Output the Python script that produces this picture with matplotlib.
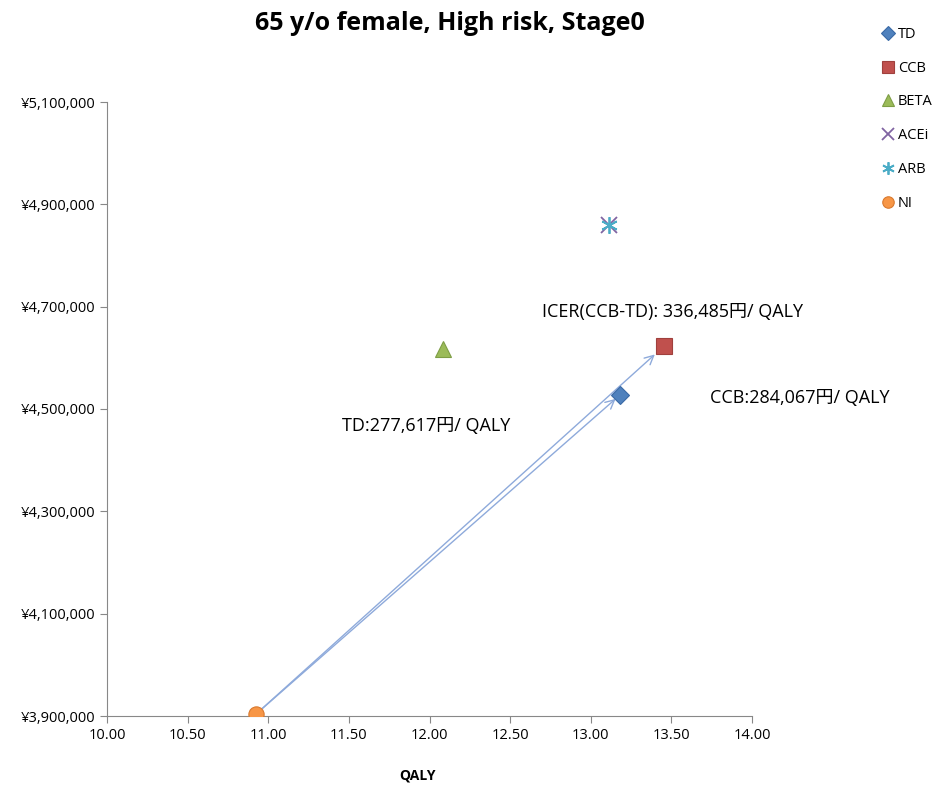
import matplotlib.pyplot as plt
from matplotlib.ticker import FuncFormatter

plt.rcParams['font.family'] = ['Open Sans', 'Noto Sans CJK JP', 'DejaVu Sans']

# 戦略ごとの QALY と費用
names = ["TD", "CCB", "BETA", "ACEi", "ARB", "NI"]
qaly = [13.18, 13.455, 12.085, 13.115, 13.115, 10.925]
cost = [4527000, 4623000, 4617000, 4860000, 4860000, 3904000]
markers = ["D", "s", "^", "x", (6, 2, 0), "o"]
colors = ["#4F81BD", "#C0504D", "#9BBB59", "#8064A2", "#4BACC6", "#F79646"]
edges = ["#3A6AA6", "#A0403D", "#7E9E45", "#8064A2", "#4BACC6", "#D9792E"]
sizes = [9, 11, 11, 11, 11, 11]

notes = ["ICER(CCB-TD): 336,485円/ QALY", "CCB:284,067円/ QALY", "TD:277,617円/ QALY"]

fig = plt.figure(figsize=(9.36, 7.89), dpi=100)
ax = fig.add_axes([107/936, 1-716/789, (752-107)/936, (716-102)/789])

# NI からの増分を示す矢印
ni = (qaly[5], cost[5])
for target in (0, 1):
    ax.annotate("", xy=(qaly[target], cost[target]), xytext=ni,
                arrowprops=dict(arrowstyle="->", color="#8EAADB", lw=1.0,
                                shrinkA=0, shrinkB=4 if target == 0 else 9,
                                mutation_scale=16), zorder=2)

for n, x, y, m, c, e, s in zip(names, qaly, cost, markers, colors, edges, sizes):
    if n in ("ACEi", "ARB"):
        ax.plot(x, y, marker=m, color=c, markersize=s+1, linestyle="none",
                markeredgewidth=1.3, label=n, zorder=3)
    else:
        ax.plot(x, y, marker=m, color=c, markeredgecolor=e, markersize=s,
                linestyle="none", markeredgewidth=0.8, label=n, zorder=3)

ax.set_xlim(10, 14)
ax.set_ylim(3900000, 5100000)
ax.set_xticks([10 + 0.5*i for i in range(9)])
ax.set_yticks([3900000 + 200000*i for i in range(7)])
ax.xaxis.set_major_formatter(FuncFormatter(lambda v, p: "%.2f" % v))
ax.yaxis.set_major_formatter(FuncFormatter(lambda v, p: "¥{:,.0f}".format(v)))
ax.tick_params(axis="both", colors="#888888", labelcolor="black", labelsize=10.5,
               length=5, direction="out")
for side in ("top", "right"):
    ax.spines[side].set_visible(False)
for side in ("left", "bottom"):
    ax.spines[side].set_color("#888888")

ax.text(13.51, 4690000, notes[0], fontsize=13, ha="center", va="center")
ax.text(13.74, 4522000, notes[1], fontsize=13, ha="left", va="center")
ax.text(11.46, 4467000, notes[2], fontsize=13, ha="left", va="center")

fig.text(450/936, 1-24/789, "65 y/o female, High risk, Stage0", fontsize=18,
         fontweight="bold", ha="center", va="center")
fig.text(418/936, 1-776/789, "QALY", fontsize=10, fontweight="bold",
         ha="center", va="center")

fig.legend(loc="upper left", bbox_to_anchor=(878/936, 1-21/789), frameon=False,
           fontsize=10.5, handlelength=0.6, handletextpad=0.35, labelspacing=1.29,
           borderaxespad=0, markerscale=0.75)

fig.savefig("out.png", dpi=100)
